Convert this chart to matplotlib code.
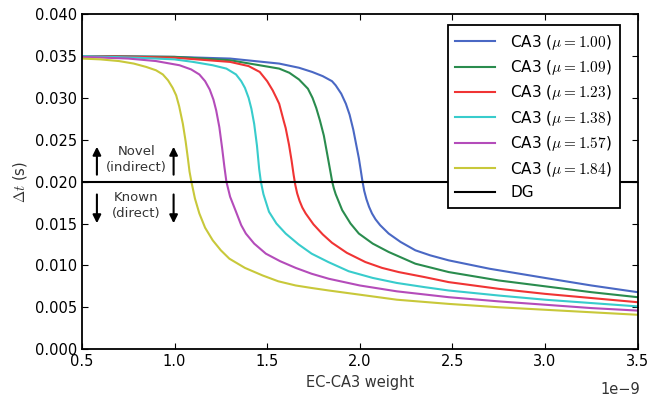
import numpy as np
import matplotlib
matplotlib.use("Agg")
import matplotlib.pyplot as plt

plt.rcParams["mathtext.fontset"] = "cm"
plt.rcParams["font.family"] = "DejaVu Sans"

# EC-CA3 weight in units of 1e-9, delta t in seconds
mu_labels = ["1.00", "1.09", "1.23", "1.38", "1.57", "1.84"]

x_mu100 = [0.5, 1.0, 1.3, 1.565, 1.672, 1.743, 1.80, 1.85, 1.87, 1.90, 1.925, 1.945,
           1.965, 1.98, 1.995, 2.005, 2.014, 2.024, 2.036, 2.05, 2.066, 2.085, 2.11,
           2.156, 2.22, 2.30, 2.38, 2.48, 2.7, 3.0, 3.25, 3.5]
y_mu100 = [0.0350, 0.0349, 0.0347, 0.0341, 0.0336, 0.0331, 0.0326, 0.0320, 0.0315,
           0.0305, 0.0293, 0.0280, 0.0262, 0.0245, 0.0228, 0.0214, 0.0201, 0.0189,
           0.0179, 0.0170, 0.0162, 0.0155, 0.0148, 0.0138, 0.0128, 0.0118, 0.0112,
           0.0106, 0.0096, 0.0085, 0.0076, 0.0068]

x_mu109 = [0.5, 1.0, 1.3, 1.565, 1.62, 1.672, 1.72, 1.745, 1.765, 1.785, 1.806,
           1.825, 1.843, 1.851, 1.86, 1.87, 1.905, 1.95, 1.995, 2.07, 2.156, 2.30,
           2.48, 2.75, 3.0, 3.25, 3.5]
y_mu109 = [0.0350, 0.0349, 0.0345, 0.0335, 0.0330, 0.0322, 0.0311, 0.0300, 0.0288,
           0.0273, 0.0255, 0.0232, 0.0210, 0.0200, 0.0192, 0.0185, 0.0166, 0.0150,
           0.0138, 0.0126, 0.0116, 0.0102, 0.0092, 0.0082, 0.0075, 0.0068, 0.0062]

x_mu123 = [0.5, 0.8, 1.0, 1.3, 1.40, 1.46, 1.50, 1.53, 1.55, 1.565, 1.59, 1.60,
           1.618, 1.632, 1.643, 1.652, 1.662, 1.675, 1.69, 1.708, 1.75, 1.80, 1.85,
           1.93, 2.03, 2.12, 2.21, 2.35, 2.48, 2.75, 3.0, 3.25, 3.5]
y_mu123 = [0.0350, 0.0349, 0.0348, 0.0343, 0.0338, 0.0331, 0.0320, 0.0309, 0.0300,
           0.0293, 0.0272, 0.0264, 0.0244, 0.0225, 0.0208, 0.0196, 0.0186, 0.0177,
           0.0169, 0.0162, 0.0149, 0.0137, 0.0127, 0.0115, 0.0104, 0.0097, 0.0092,
           0.0086, 0.0080, 0.0072, 0.0066, 0.0061, 0.0056]

x_mu138 = [0.5, 0.8, 1.0, 1.1, 1.206, 1.28, 1.332, 1.36, 1.38, 1.40, 1.415, 1.43,
           1.445, 1.457, 1.466, 1.48, 1.51, 1.55, 1.60, 1.67, 1.74, 1.83, 1.94, 2.07,
           2.2, 2.35, 2.48, 2.75, 3.0, 3.25, 3.5]
y_mu138 = [0.0350, 0.0348, 0.0346, 0.0343, 0.0339, 0.0335, 0.0328, 0.0320, 0.0312,
           0.0300, 0.0287, 0.0269, 0.0243, 0.0215, 0.0200, 0.0185, 0.0164, 0.0150,
           0.0138, 0.0125, 0.0114, 0.0104, 0.0093, 0.0085, 0.0079, 0.0074, 0.0070,
           0.0064, 0.0059, 0.0055, 0.0051]

x_mu157 = [0.5, 0.75, 0.9, 1.027, 1.09, 1.134, 1.165, 1.19, 1.21, 1.225, 1.242,
           1.257, 1.269, 1.28, 1.30, 1.332, 1.36, 1.385, 1.43, 1.493, 1.57, 1.654,
           1.74, 1.833, 2.0, 2.2, 2.48, 2.75, 3.0, 3.25, 3.5]
y_mu157 = [0.0349, 0.0347, 0.0344, 0.0339, 0.0334, 0.0328, 0.0320, 0.0310, 0.0298,
           0.0285, 0.0265, 0.0240, 0.0218, 0.0200, 0.0182, 0.0164, 0.0148, 0.0138,
           0.0126, 0.0114, 0.0105, 0.0097, 0.0090, 0.0084, 0.0076, 0.0069, 0.0062,
           0.0057, 0.0053, 0.0049, 0.0046]

x_mu184 = [0.5, 0.6, 0.7, 0.78, 0.847, 0.90, 0.937, 0.965, 0.99, 1.009, 1.025,
           1.045, 1.06, 1.072, 1.081, 1.091, 1.11, 1.134, 1.165, 1.206, 1.25, 1.296,
           1.38, 1.475, 1.56, 1.654, 1.74, 1.833, 2.0, 2.2, 2.48, 2.75, 3.0, 3.25, 3.5]
y_mu184 = [0.0347, 0.0346, 0.0344, 0.0341, 0.0337, 0.0333, 0.0328, 0.0321, 0.0312,
           0.0303, 0.0290, 0.0269, 0.0248, 0.0228, 0.0212, 0.0200, 0.0180, 0.0162,
           0.0145, 0.0130, 0.0118, 0.0108, 0.0097, 0.0088, 0.0081, 0.0076, 0.0073,
           0.0070, 0.0065, 0.0059, 0.0054, 0.0050, 0.0047, 0.0044, 0.0041]

dg_level = 0.020

curves = [(x_mu100, y_mu100), (x_mu109, y_mu109), (x_mu123, y_mu123),
          (x_mu138, y_mu138), (x_mu157, y_mu157), (x_mu184, y_mu184)]
colors = ["#4a68c4", "#2a8c4e", "#f03434", "#38cccc", "#b44cba", "#c8c83a"]

fig = plt.figure(figsize=(6.5, 4.05), dpi=100)
ax = fig.add_axes([0.126, 0.138, 0.855, 0.827])

for (xs, ys), c, m in zip(curves, colors, mu_labels):
    ax.plot(np.array(xs) * 1e-9, ys, color=c, lw=1.5,
            label="CA3 ($\\mu=%s$)" % m)
ax.axhline(dg_level, color="k", lw=1.5, label="DG")

ax.set_xlim(0.5e-9, 3.5e-9)
ax.set_ylim(0.0, 0.040)
ax.set_yticks(np.arange(0, 0.0401, 0.005))
ax.yaxis.set_major_formatter(matplotlib.ticker.FormatStrFormatter("%.3f"))
ax.tick_params(direction="in", top=True, right=True, labelsize=10.5, length=4)
for s in ax.spines.values():
    s.set_linewidth(1.3)
ax.xaxis.get_offset_text().set_visible(False)
fig.text(0.985, 1 - 390 / 405, "1e\u22129", ha="right", va="center",
         fontsize=10.5, color="#333333")
ax.set_xlabel("EC-CA3 weight", fontsize=10.5, color="#333333")
ax.set_ylabel("$\\Delta t$ (s)", fontsize=10.5, color="#333333")

# novel / known annotations
arrow = dict(arrowstyle="-|>", color="k", lw=1.5, mutation_scale=12)
for xa in (0.581, 0.995):
    ax.annotate("", xy=(xa * 1e-9, 0.0245), xytext=(xa * 1e-9, 0.0205),
                arrowprops=arrow)
    ax.annotate("", xy=(xa * 1e-9, 0.0147), xytext=(xa * 1e-9, 0.0188),
                arrowprops=arrow)
ax.text(0.795e-9, 0.0226, "Novel\n(indirect)", ha="center", va="center",
        fontsize=9.5, color="#333333", linespacing=1.3)
ax.text(0.795e-9, 0.0171, "Known\n(direct)", ha="center", va="center",
        fontsize=9.5, color="#333333", linespacing=1.3)

leg = ax.legend(loc="upper right", bbox_to_anchor=(0.968, 0.968), borderaxespad=0,
                fontsize=11, fancybox=False, framealpha=1, handlelength=2.6,
                labelspacing=0.42, handletextpad=1.0, borderpad=0.5)
leg.get_frame().set_edgecolor("k")
leg.get_frame().set_linewidth(1.3)

fig.savefig("out.png", dpi=100)
